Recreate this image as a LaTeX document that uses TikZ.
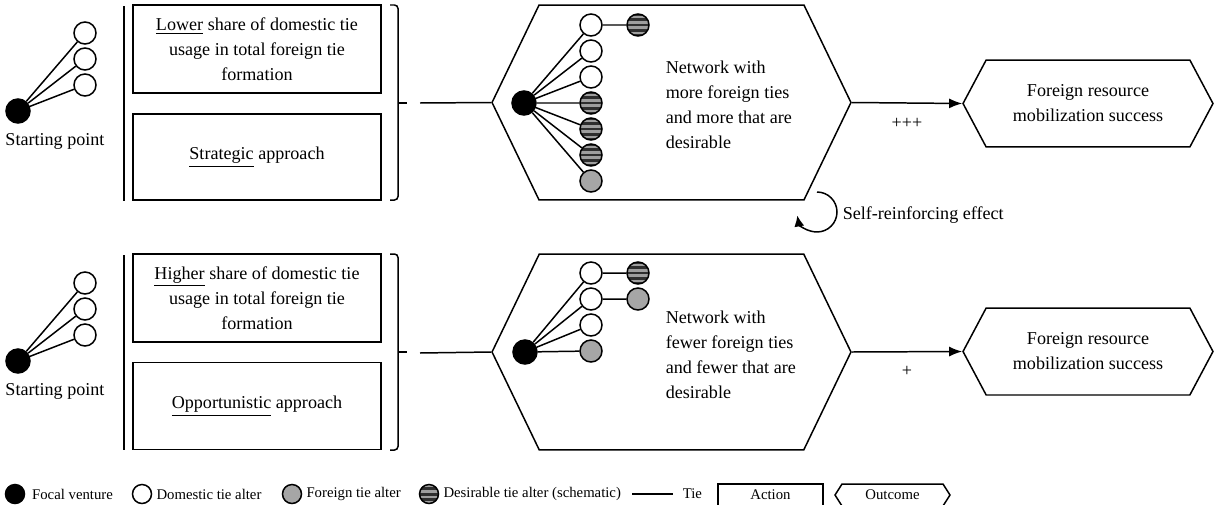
\documentclass[tikz,border=0pt]{standalone}
\usepackage{fontspec}
\setmainfont{Liberation Serif}
\usetikzlibrary{arrows.meta, positioning, shapes.symbols}

\begin{document}
\begin{tikzpicture}[x=0.02cm, y=-0.02cm, line width=0.85pt,
  txt/.style={font=\fontsize{10.3}{14.2}\selectfont, inner sep=0pt, align=center},
  act/.style={txt, draw, line width=0.85pt},
  outc/.style={txt, draw, signal, signal to=east and west, line width=0.85pt},
  foc/.style={circle, draw, fill=black, inner sep=0pt, minimum size=0.48cm},
  dom/.style={circle, draw, fill=white, inner sep=0pt, minimum size=0.44cm},
  fgn/.style={dom, fill=black!35},
  des/.style={dom, fill=black!82, path picture={
      \foreach \k in {-1.5,-0.5,0.5,1.5}
        \draw[black!38, line width=1.2pt]
          ([yshift=\k*2.9pt]path picture bounding box.west) --
          ([yshift=\k*2.9pt]path picture bounding box.east);}},
  lgc/.style={minimum size=0.38cm},
  lg/.style={font=\fontsize{8.4}{10}\selectfont, inner sep=0pt, anchor=west},
  tie/.style={line width=0.85pt},
  fl/.style={-{Latex[length=2.6mm, width=2mm]}, line width=0.85pt}
]
\useasboundingbox (0,0) rectangle (1214,504);

% upper row
\node[foc] (s1) at (18,111) {};
\node[dom] (s1a) at (85,33) {};
\node[dom] (s1b) at (85,59) {};
\node[dom] (s1c) at (85,85) {};
\node[txt] (sp1) at (55,141) {Starting point};
\draw[tie] (s1) -- (s1a) (s1) -- (s1b) (s1) -- (s1c);

\draw (124,6) -- (124,201);
\node[act, minimum width=4.96cm, minimum height=1.76cm] (a1) at (257,49)
  {\underline{Lower} share of domestic tie\\usage in total foreign tie\\formation};
\node[act, minimum width=4.96cm, minimum height=1.72cm] (a2) at (257,157)
  {\underline{Strategic} approach};
\draw[rounded corners=2pt] (390,5) -- (398,5) -- (398,200) -- (390,200);
\draw (398,103) -- (407,103);
\coordinate (j1) at (420,103);

\node[outc, minimum width=7.18cm, minimum height=3.9cm,
      signal pointer angle=128.5] (net1) at (671.5,102.5) {};
\draw (j1) -- (net1.west);

\node[foc] (f1) at (524,103) {};
\node[dom] (n1) at (591,25) {};
\node[dom] (n2) at (591,51) {};
\node[dom] (n3) at (591,77) {};
\node[des] (n4) at (591,103) {};
\node[des] (n5) at (591,129) {};
\node[des] (n6) at (591,155) {};
\node[fgn] (n7) at (591,181) {};
\node[des] (n1x) at (638,25) {};
\draw[tie] (f1) -- (n1) (f1) -- (n2) (f1) -- (n3) (f1) -- (n4)
  (f1) -- (n5) (f1) -- (n6) (f1) -- (n7) (n1) -- (n1x);
\node[txt, align=left, anchor=west] (t1) at (665,104.5)
  {Network with\\more foreign ties\\and more that are\\desirable};

\node[outc, minimum width=5cm, minimum height=1.74cm,
      signal pointer angle=124] (o1) at (1088,103.5)
  {Foreign resource\\mobilization success};
\draw[fl] (net1.east) -- node[txt, below=8pt] {+++} (o1.west);

\draw[-{Latex[length=2.2mm, width=2mm]}] (817,192)
  arc[start angle=90, end angle=-170, radius=0.4cm];
\node[txt, anchor=west] (self) at (842,215) {Self-reinforcing effect};

% lower row
\node[foc] (s2) at (18,361) {};
\node[dom] (s2a) at (85,283) {};
\node[dom] (s2b) at (85,309) {};
\node[dom] (s2c) at (85,335) {};
\node[txt] (sp2) at (55,391) {Starting point};
\draw[tie] (s2) -- (s2a) (s2) -- (s2b) (s2) -- (s2c);

\draw (124,255) -- (124,450);
\node[act, minimum width=4.96cm, minimum height=1.76cm] (b1) at (257,298)
  {\underline{Higher} share of domestic tie\\usage in total foreign tie\\formation};
\node[act, minimum width=4.96cm, minimum height=1.74cm] (b2) at (257,406)
  {\underline{Opportunistic} approach};
\draw[rounded corners=2pt] (390,254) -- (398,254) -- (398,450) -- (390,450);
\draw (398,352) -- (407,352);
\coordinate (j2) at (420,353);

\node[outc, minimum width=7.18cm, minimum height=3.92cm,
      signal pointer angle=128.5] (net2) at (671.5,352) {};
\draw (j2) -- (net2.west);

\node[foc] (f2) at (525,352) {};
\node[dom] (m1) at (591,273) {};
\node[dom] (m2) at (591,299) {};
\node[dom] (m3) at (591,325) {};
\node[fgn] (m4) at (591,351) {};
\node[des] (m1x) at (638,273) {};
\node[fgn] (m2x) at (638,299) {};
\draw[tie] (f2) -- (m1) (f2) -- (m2) (f2) -- (m3) (f2) -- (m4)
  (m1) -- (m1x) (m2) -- (m2x);
\node[txt, align=left, anchor=west] (t2) at (665,354.5)
  {Network with\\fewer foreign ties\\and fewer that are\\desirable};

\node[outc, minimum width=5cm, minimum height=1.74cm,
      signal pointer angle=124] (o2) at (1088,351.5)
  {Foreign resource\\mobilization success};
\draw[fl] (net2.east) -- node[txt, below=8pt] {+} (o2.west);

% legend
\node[foc, lgc] (l1) at (15,494) {};
\node[lg, right=3.5pt of l1] (l1t) {Focal venture};
\node[dom, lgc] (l2) at (142,494) {};
\node[lg, right=2pt of l2] (l2t) {Domestic tie alter};
\node[fgn, lgc] (l3) at (292,494) {};
\node[lg, right=2pt of l3] (l3t) {Foreign tie alter};
\node[des, lgc] (l4) at (429,494) {};
\node[lg, right=2pt of l4] (l4t) {Desirable tie alter (schematic)};
\coordinate (l5) at (632,494);
\node[lg] (l5t) at (682,494) {Tie};
\draw[tie] (l5) -- ++(41,0);
\node[act, font=\fontsize{8.4}{10}\selectfont, minimum width=2.1cm,
      minimum height=0.44cm] (l6) at (770.5,495) {Action};
\node[outc, font=\fontsize{8.4}{10}\selectfont, minimum width=2.3cm,
      minimum height=0.44cm, signal pointer angle=115] (l7) at (892.5,495) {Outcome};
\end{tikzpicture}
\end{document}
